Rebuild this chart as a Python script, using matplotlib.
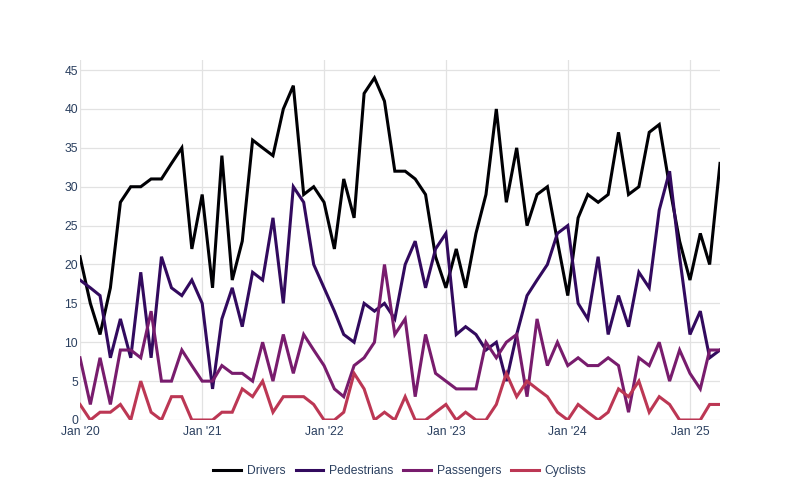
import matplotlib
matplotlib.use("Agg")
import matplotlib.pyplot as plt
import pandas as pd

plt.rcParams['font.family'] = ['Liberation Sans', 'DejaVu Sans']

start_month = "2020-01-01"
n_months = 64
dates = pd.date_range(start_month, periods=n_months, freq="MS")

drivers = [21, 15, 11, 17, 28, 30, 30, 31, 31, 33, 35, 22, 29, 17, 34, 18, 23, 36, 35, 34,
           40, 43, 29, 30, 28, 22, 31, 26, 42, 44, 41, 32, 32, 31, 29, 21, 17, 22, 17, 24,
           29, 40, 28, 35, 25, 29, 30, 23, 16, 26, 29, 28, 29, 37, 29, 30, 37, 38, 30, 23,
           18, 24, 20, 33]
pedestrians = [18, 17, 16, 8, 13, 8, 19, 8, 21, 17, 16, 18, 15, 4, 13, 17, 12, 19, 18, 26,
               15, 30, 28, 20, 17, 14, 11, 10, 15, 14, 15, 13, 20, 23, 17, 22, 24, 11, 12, 11,
               9, 10, 5, 11, 16, 18, 20, 24, 25, 15, 13, 21, 11, 16, 12, 19, 17, 27, 32, 21,
               11, 14, 8, 9]
passengers = [8, 2, 8, 2, 9, 9, 8, 14, 5, 5, 9, 7, 5, 5, 7, 6, 6, 5, 10, 5,
              11, 6, 11, 9, 7, 4, 3, 7, 8, 10, 20, 11, 13, 3, 11, 6, 5, 4, 4, 4,
              10, 8, 10, 11, 3, 13, 7, 10, 7, 8, 7, 7, 8, 7, 1, 8, 7, 10, 5, 9,
              6, 4, 9, 9]
cyclists = [2, 0, 1, 1, 2, 0, 5, 1, 0, 3, 3, 0, 0, 0, 1, 1, 4, 3, 5, 1,
            3, 3, 3, 2, 0, 0, 1, 6, 4, 0, 1, 0, 3, 0, 0, 1, 2, 0, 1, 0,
            0, 2, 6, 3, 5, 4, 3, 1, 0, 2, 1, 0, 1, 4, 3, 5, 1, 3, 2, 0,
            0, 0, 2, 2]

series_names = ["Drivers", "Pedestrians", "Passengers", "Cyclists"]
series_values = [drivers, pedestrians, passengers, cyclists]
series_colors = ["#000004", "#320a5e", "#781c6d", "#bc3754"]

y_ticks = [0, 5, 10, 15, 20, 25, 30, 35, 40, 45]
x_tick_years = [2020, 2021, 2022, 2023, 2024, 2025]

text_color = "#2a3f5f"
grid_color = "#e2e2e2"

fig = plt.figure(figsize=(8, 5), dpi=100)
ax = fig.add_axes([0.1, 0.16, 0.8, 0.72])

for name, vals, col in zip(series_names, series_values, series_colors):
    ax.plot(dates, vals, color=col, lw=2.2, label=name, solid_joinstyle="miter",
            zorder=3)

ax.set_xlim(dates[0], dates[-1])
ax.set_ylim(0, 46.3)
ax.set_yticks(y_ticks)
ax.set_yticklabels([str(v) for v in y_ticks])

tick_dates = [pd.Timestamp(f"{y}-01-01") for y in x_tick_years]
ax.set_xticks(tick_dates)
ax.set_xticklabels([f"Jan '{str(y)[2:]}" for y in x_tick_years])

ax.grid(True, color=grid_color, lw=0.9, zorder=0)
ax.set_axisbelow(True)
for s in ax.spines.values():
    s.set_visible(False)
ax.tick_params(axis="both", length=0, labelsize=8.7, colors=text_color)
ax.tick_params(axis="y", pad=1.5)
ax.tick_params(axis="x", pad=4.5)

leg = fig.legend(loc="center", bbox_to_anchor=(0.5, 0.058), ncol=4, frameon=False,
                 fontsize=8.7, handlelength=2.3, handletextpad=0.45,
                 columnspacing=0.85)
for t in leg.get_texts():
    t.set_color(text_color)

fig.savefig("out.png", dpi=100)
